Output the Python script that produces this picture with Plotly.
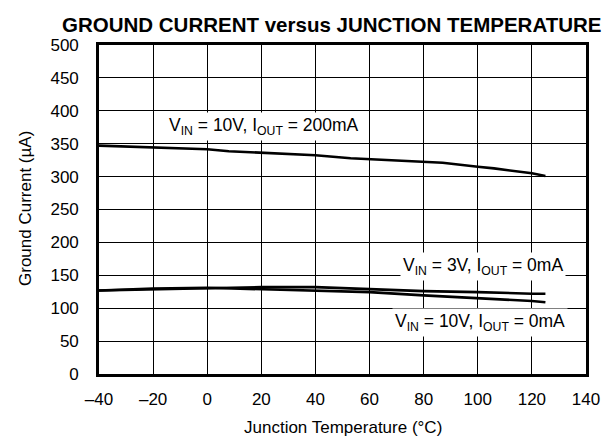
import plotly.graph_objects as go

# Data
t_200ma = [-40, -20, 0, 8, 20, 40, 53, 60, 80, 87, 100, 106, 120, 125]
i_10v_200ma = [347, 344.5, 341.5, 338.5, 336.5, 332.5, 328, 326.5, 322.5, 321, 315, 312.5, 305, 301]

t_0ma = [-40, -20, 0, 20, 40, 60, 80, 100, 110, 120, 125]
i_3v_0ma = [127, 129, 130.5, 132, 132, 129, 126, 124.5, 123, 122, 122]
i_10v_0ma = [127, 130, 131, 129, 127, 124.5, 119.5, 114.5, 113, 111, 109]

x_ticks = [-40, -20, 0, 20, 40, 60, 80, 100, 120, 140]
x_ticktext = ["\u201340", "\u201320", "0", "20", "40", "60", "80", "100", "120", "140"]
y_ticks = [0, 50, 100, 150, 200, 250, 300, 350, 400, 450, 500]

title_text = "<b>GROUND CURRENT versus JUNCTION TEMPERATURE</b>"
x_title = "Junction Temperature (\u00b0C)"
y_title = "Ground Current (\u00b5A)"
labels = [
    ("V<sub>IN</sub> = 10V, I<sub>OUT</sub> = 200mA", 21, 376),
    ("V<sub>IN</sub> = 3V, I<sub>OUT</sub> = 0mA", 102, 163),
    ("V<sub>IN</sub> = 10V, I<sub>OUT</sub> = 0mA", 101, 79),
]

font = "Liberation Sans, Arial, Helvetica, sans-serif"

fig = go.Figure()
for xs, ys in [(t_200ma, i_10v_200ma), (t_0ma, i_3v_0ma), (t_0ma, i_10v_0ma)]:
    fig.add_trace(go.Scatter(x=xs, y=ys, mode="lines",
                             line=dict(color="black", width=2.6),
                             showlegend=False, hoverinfo="skip"))

for txt, lx, ly in labels:
    fig.add_annotation(x=lx, y=ly, text=txt, showarrow=False, bgcolor="white",
                       font=dict(family=font, size=17.5, color="black"), borderpad=2)

# pixel -> paper helpers for the fixed plot area (91..578 x 37..366)
def px(xpix):
    return (xpix - 91) / 487.0

def py(ypix):
    return (366 - ypix) / 329.0

fig.add_annotation(xref="paper", yref="paper", x=px(324), y=py(16), text=title_text,
                   showarrow=False, xanchor="center", yanchor="middle", borderpad=0,
                   font=dict(family=font, size=20.5, color="black"))
fig.add_annotation(xref="paper", yref="paper", x=px(335), y=py(419), text=x_title,
                   showarrow=False, xanchor="center", yanchor="middle", borderpad=0,
                   font=dict(family=font, size=17, color="black"))
fig.add_annotation(xref="paper", yref="paper", x=px(17), y=py(201), text=y_title,
                   showarrow=False, xanchor="center", yanchor="middle", textangle=-90,
                   borderpad=0, font=dict(family=font, size=17, color="black"))

fig.update_layout(
    width=613, height=437,
    margin=dict(l=91, r=35, t=37, b=71, autoexpand=False),
    paper_bgcolor="white", plot_bgcolor="white",
    font=dict(family=font, size=17, color="black"),
    xaxis=dict(range=[-40, 140], tickvals=x_ticks, ticktext=x_ticktext,
               showgrid=True, gridcolor="black", gridwidth=1,
               showline=True, linecolor="black", linewidth=2.6, mirror=True,
               zeroline=False, ticks="", automargin=False, ticklabelstandoff=8,
               tickfont=dict(family=font, size=17)),
    yaxis=dict(range=[0, 500], tickvals=y_ticks,
               showgrid=True, gridcolor="black", gridwidth=1,
               showline=True, linecolor="black", linewidth=2.6, mirror=True,
               zeroline=False, ticks="", automargin=False, ticklabelstandoff=14,
               tickfont=dict(family=font, size=17)),
)

fig.write_html("out.html")
